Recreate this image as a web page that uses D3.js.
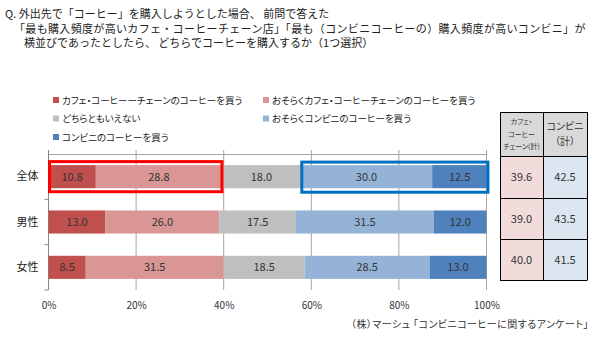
<!DOCTYPE html>
<html><head><meta charset="utf-8">
<script src="https://cdn.jsdelivr.net/npm/d3@7"></script>
<style>
body{margin:0;background:#fff;}
svg text{font-family:"Noto Sans CJK JP","Noto Sans",sans-serif;}
.palt{font-feature-settings:"palt" 1;}
</style></head>
<body><svg id="c" width="600" height="340"></svg>
<script>
const titleLines = [
  "Q. 外出先で「コーヒー」を購入しようとした場合、 前問で答えた",
  "「最も購入頻度が高いカフェ・コーヒーチェーン店」「最も（コンビニコーヒーの）購入頻度が高いコンビニ」が",
  "横並びであったとしたら、 どちらでコーヒーを購入するか（1つ選択）"
];
const categories = ["全体", "男性", "女性"];
const seriesNames = [
  "カフェ・コーヒーーチェーンのコーヒーを買う",
  "おそらくカフェ・コーヒーチェーンのコーヒーを買う",
  "どちらともいえない",
  "おそらくコンビニのコーヒーを買う",
  "コンビニのコーヒーを買う"
];
const cafeSure    = [10.8, 13.0, 8.5];
const cafeMaybe   = [28.8, 26.0, 31.5];
const neutral     = [18.0, 17.5, 18.5];
const conbiMaybe  = [30.0, 31.5, 28.5];
const conbiSure   = [12.5, 12.0, 13.0];
const tickValues  = [0, 20, 40, 60, 80, 100];
const cafeTotal   = ["39.6", "39.0", "40.0"];
const conbiTotal  = ["42.5", "43.5", "41.5"];
const sourceText  = "（株）マーシュ 「コンビニコーヒーに関するアンケート」";

const colors = ["#c0504d", "#d99694", "#bfbfbf", "#95b3d7", "#4f81bd"];
const series = [cafeSure, cafeMaybe, neutral, conbiMaybe, conbiSure];

const svg = d3.select("#c");

// title
svg.append("g").selectAll("text").data(titleLines).join("text")
  .attr("x", (d,i) => [5, 14, 24][i])
  .attr("y", (d,i) => 18 + i*14.5)
  .attr("font-size", 11).attr("fill", "#222")
  .attr("letter-spacing", (d,i) => i === 1 ? 0.33 : 0)
  .text(d => d);

// legend
const legendPos = [[53,100],[263,100],[53,118.5],[263,118.5],[53,137]];
const lg = svg.append("g");
seriesNames.forEach((n,i) => {
  const [lx, ly] = legendPos[i];
  lg.append("rect").attr("x", lx).attr("y", ly-3).attr("width", 6).attr("height", 6).attr("fill", colors[i]);
  lg.append("text").attr("class","palt").attr("x", lx+9).attr("y", ly+3.5).attr("font-size", 9.5).attr("fill","#222").text(n);
});

// scales
const x = d3.scaleLinear().domain([0,100]).range([48.5, 486.5]);
const y = d3.scaleBand().domain(categories).range([154, 290]).paddingInner(0.49).paddingOuter(0.245);

// gridlines
svg.append("g").selectAll("line").data(tickValues).join("line")
  .attr("x1", d => x(d)).attr("x2", d => x(d))
  .attr("y1", 150).attr("y2", 290)
  .attr("stroke", "#a6a6a6").attr("stroke-width", 1);
// top horizontal line
svg.append("line").attr("x1", x(0)).attr("x2", x(100)).attr("y1", 154.5).attr("y2", 154.5)
  .attr("stroke", "#a6a6a6");
// left category axis
const yAxis = d3.axisLeft(y).tickSize(0).tickPadding(10);
const ya = svg.append("g").attr("transform", `translate(${x(0)},0)`).call(yAxis);
ya.select(".domain").remove();
ya.selectAll("text").attr("font-size", 11).attr("fill", "#222").attr("font-family", '"Noto Sans CJK JP",sans-serif');
svg.append("line").attr("x1", x(0)).attr("x2", x(0)).attr("y1", 150).attr("y2", 290).attr("stroke", "#888");
const bounds = [y.range()[0]].concat(categories.map(c => y(c) + y.bandwidth() + y.step()*y.paddingInner()/2));
bounds[bounds.length-1] = 290;
svg.append("g").selectAll("line").data(bounds.slice(1)).join("line")
  .attr("x1", x(0)-4).attr("x2", x(0)).attr("y1", d => d).attr("y2", d => d).attr("stroke", "#888");

// bottom tick labels
const xAxis = d3.axisBottom(x).tickValues(tickValues).tickFormat(d => d + "%").tickSize(0).tickPadding(0);
const xa = svg.append("g").attr("transform", "translate(0,302)").call(xAxis);
xa.select(".domain").remove();
xa.selectAll("text").attr("font-size", 10).attr("fill", "#333").attr("font-family", '"Noto Sans","DejaVu Sans",sans-serif');

// stacked bars
const table = categories.map((c,i) => {
  const o = {cat: c};
  series.forEach((s,k) => o["s"+k] = s[i]);
  return o;
});
const stack = d3.stack().keys(series.map((s,k) => "s"+k))(table);
const bars = svg.append("g");
stack.forEach((layer,k) => {
  const g = bars.append("g").attr("fill", colors[k]);
  g.selectAll("rect").data(layer).join("rect")
    .attr("x", d => x(d[0])).attr("width", d => x(d[1]) - x(d[0]))
    .attr("y", d => y(d.data.cat)).attr("height", y.bandwidth());
  bars.append("g").selectAll("text").data(layer).join("text")
    .attr("x", d => (x(d[0]) + x(d[1]))/2)
    .attr("y", d => y(d.data.cat) + y.bandwidth()/2 + 4)
    .attr("text-anchor", "middle").attr("font-size", 11)
    .attr("font-family", '"Noto Sans","DejaVu Sans",sans-serif')
    .attr("fill", "#333")
    .text(d => (d[1]-d[0]).toFixed(1));
});

// highlight boxes on 全体
const first = stack.map(l => l[0]);
svg.append("rect")
  .attr("x", x(first[0][0]) + 1).attr("width", x(first[1][1]) - x(first[0][0]) - 1)
  .attr("y", y(categories[0]) - 3.5).attr("height", y.bandwidth() + 7)
  .attr("fill", "none").attr("stroke", "#ff0000").attr("stroke-width", 3);
svg.append("rect")
  .attr("x", x(first[3][0]) + 1).attr("width", x(first[4][1]) - x(first[3][0]))
  .attr("y", y(categories[0]) - 3).attr("height", y.bandwidth() + 7)
  .attr("fill", "none").attr("stroke", "#0070c0").attr("stroke-width", 3);

// side table
const tx = [500, 543, 587];
const rowsY = [156, 198, 239, 280];
const tg = svg.append("g");
tg.append("rect").attr("x", tx[0]).attr("y", 112).attr("width", tx[2]-tx[0]).attr("height", 44).attr("fill", "#d9d9d9");
categories.forEach((c,i) => {
  tg.append("rect").attr("x", tx[0]).attr("y", rowsY[i]).attr("width", tx[1]-tx[0]).attr("height", rowsY[i+1]-rowsY[i]).attr("fill", "#f2dcdb");
  tg.append("rect").attr("x", tx[1]).attr("y", rowsY[i]).attr("width", tx[2]-tx[1]).attr("height", rowsY[i+1]-rowsY[i]).attr("fill", "#dce6f1");
  tg.append("text").attr("x", (tx[0]+tx[1])/2).attr("y", (rowsY[i]+rowsY[i+1])/2 + 4).attr("text-anchor","middle")
    .attr("font-size", 11).attr("fill", "#333").attr("font-family", '"Noto Sans",sans-serif').text(cafeTotal[i]);
  tg.append("text").attr("x", (tx[1]+tx[2])/2).attr("y", (rowsY[i]+rowsY[i+1])/2 + 4).attr("text-anchor","middle")
    .attr("font-size", 11).attr("fill", "#333").attr("font-family", '"Noto Sans",sans-serif').text(conbiTotal[i]);
});
// borders
[112].concat(rowsY).forEach(yy => tg.append("line").attr("x1", tx[0]).attr("x2", tx[2]).attr("y1", yy+0.5).attr("y2", yy+0.5).attr("stroke", "#000"));
tx.forEach(xx => tg.append("line").attr("x1", xx+0.5).attr("x2", xx+0.5).attr("y1", 112).attr("y2", 280.5).attr("stroke", "#000"));
// headers
["カフェ・", "コーヒー", "チェーン(計)"].forEach((t,i) => tg.append("text").attr("class","palt")
  .attr("x", (tx[0]+tx[1])/2).attr("y", 124 + i*12.5).attr("text-anchor","middle").attr("font-size", 7).attr("fill","#333").text(t));
["コンビニ", "（計）"].forEach((t,i) => tg.append("text").attr("class","palt")
  .attr("x", (tx[1]+tx[2])/2).attr("y", 130 + i*15).attr("text-anchor","middle").attr("font-size", 10).attr("fill","#333").text(t));

// source
svg.append("text").attr("class","palt").attr("x", 589).attr("y", 328).attr("text-anchor","end")
  .attr("font-size", 10).attr("letter-spacing", 0.45).attr("fill","#333").text(sourceText);
</script></body></html>
